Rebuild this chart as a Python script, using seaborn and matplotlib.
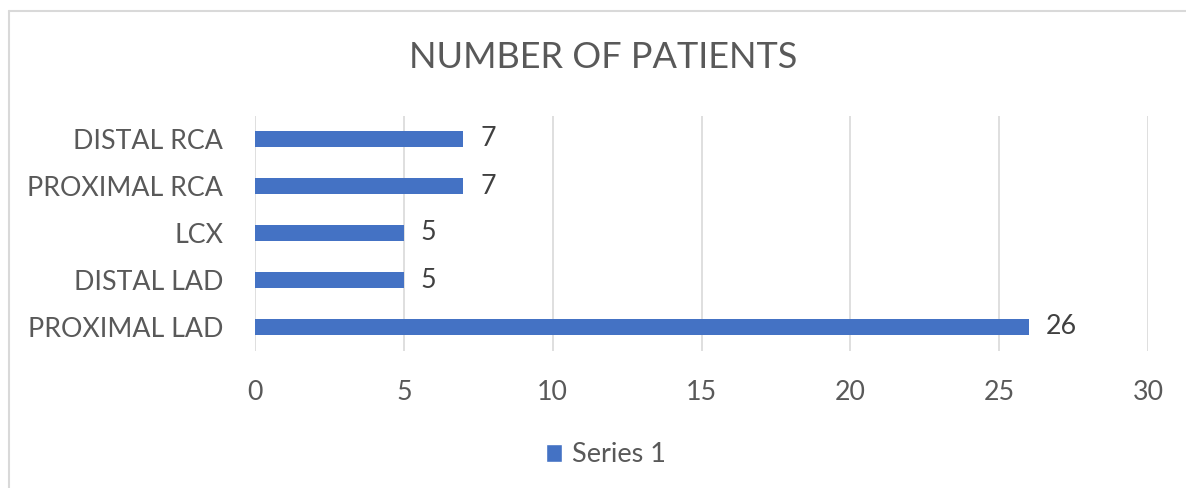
import matplotlib
matplotlib.use("Agg")
import matplotlib.pyplot as plt
from matplotlib.patches import Patch
from matplotlib.lines import Line2D
import pandas as pd
import seaborn as sns

# Data
categories = ["DISTAL RCA", "PROXIMAL RCA", "LCX", "DISTAL LAD", "PROXIMAL LAD"]
patients = [7, 7, 5, 5, 26]
series_name = "Series 1"
x_ticks = [0, 5, 10, 15, 20, 25, 30]
title = "NUMBER OF PATIENTS"

df = pd.DataFrame({"segment": categories, "patients": patients, "series": series_name})

sns.set_theme(style="white")
plt.rcParams["font.family"] = ["Lato", "DejaVu Sans"]

W, H = 1186, 488
fig = plt.figure(figsize=(W / 100, H / 100), dpi=100)
fig.patch.set_facecolor("white")

# plot area in pixel coordinates
left, right, top, bottom = 255, 1148, 115.5, 350.5
ax = fig.add_axes([left / W, (H - bottom) / H, (right - left) / W, (bottom - top) / H])

bar_color = "#4472C4"
sns.barplot(data=df, x="patients", y="segment", order=categories, hue="series",
            palette=[bar_color], width=0.34, dodge=False, legend=False, ax=ax,
            saturation=1, edgecolor="none")

ax.set_xlim(0, 30)
ax.set_xticks(x_ticks)
ax.set_xlabel("")
ax.set_ylabel("")
for s in ax.spines.values():
    s.set_visible(False)
ax.grid(axis="x", color="#d9d9d9", linewidth=1.2)
ax.set_axisbelow(True)
ax.tick_params(axis="both", length=0, labelsize=19.3, colors="#595959")
ax.tick_params(axis="x", pad=21)
ax.tick_params(axis="y", pad=23)

for cont in ax.containers:
    ax.bar_label(cont, labels=[str(v) for v in patients], padding=12,
                 fontsize=19.3, color="#404040")

fig.text(603 / W, 1 - 58 / H, title, ha="center", va="center",
         fontsize=26, color="#595959")

# legend
fig.legend(handles=[Patch(facecolor=bar_color, label=series_name)],
           loc="center", bbox_to_anchor=(606 / W, 1 - 455 / H), frameon=False,
           fontsize=19.5, labelcolor="#595959", handlelength=0.6, handleheight=0.6,
           handletextpad=0.35)

# chart border
fig.add_artist(Line2D([9 / W, 1], [1 - 11 / H, 1 - 11 / H], color="#d9d9d9", linewidth=1.5))
fig.add_artist(Line2D([9 / W, 9 / W], [0, 1 - 11 / H], color="#d9d9d9", linewidth=1.5))

fig.savefig("out.png", dpi=100)
